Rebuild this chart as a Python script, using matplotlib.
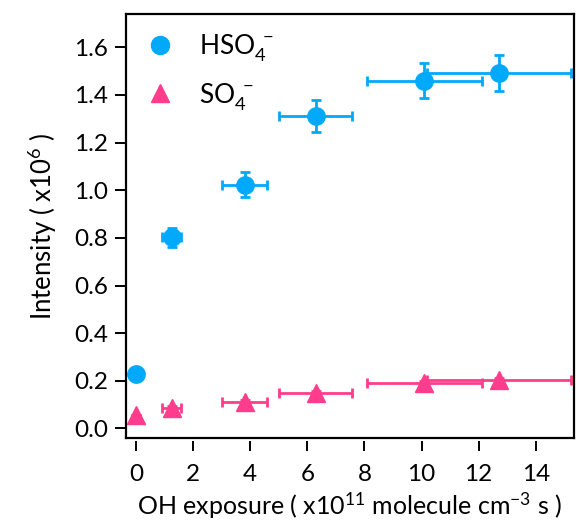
import numpy as np
import matplotlib
matplotlib.use('Agg')
from matplotlib import pyplot as plt
from matplotlib.lines import Line2D

plt.rcParams['font.family'] = ['Lato', 'DejaVu Sans']
plt.rcParams['mathtext.fontset'] = 'custom'
plt.rcParams['mathtext.rm'] = 'Lato'
plt.rcParams['mathtext.it'] = 'Lato'

# OH exposure (x1e11 molecule cm-3 s) and its spread
oh_exp = [0.0, 1.25, 3.8, 6.3, 10.1, 12.7]
oh_err = [0.0, 0.33, 0.8, 1.28, 2.02, 2.52]

# intensities (x1e6)
hso4 = [0.227, 0.802, 1.023, 1.313, 1.46, 1.493]
hso4_err = [0.0, 0.041, 0.052, 0.067, 0.074, 0.075]
so4 = [0.056, 0.086, 0.112, 0.150, 0.192, 0.203]
so4_err = [0.0, 0.008, 0.008, 0.008, 0.008, 0.008]

xticks = [0, 2, 4, 6, 8, 10, 12, 14]
yticks = [0.0, 0.2, 0.4, 0.6, 0.8, 1.0, 1.2, 1.4, 1.6]

blue = '#00A9FA'
pink = '#FF3D8C'

fig = plt.figure(figsize=(5.77, 5.24), dpi=100)
ax = fig.add_axes([0.2184, 0.1641, 0.7764, 0.8092])

ax.errorbar(oh_exp, hso4, xerr=oh_err, yerr=hso4_err, fmt='o', color=blue,
            ms=12.5, elinewidth=2, capsize=3.8, capthick=2)
ax.errorbar(oh_exp, so4, xerr=oh_err, yerr=so4_err, fmt='^', color=pink,
            ms=13, elinewidth=2, capsize=3.8, capthick=2)

ax.set_xlim(-0.35, 15.34)
ax.set_ylim(-0.04, 1.74)
ax.set_xticks(xticks)
ax.set_xticklabels([str(t) for t in xticks])
ax.set_yticks(yticks)
ax.set_yticklabels(['%.1f' % t for t in yticks])

# Igor-style: bottom axis offset slightly below the frame
ax.spines['bottom'].set_position(('outward', 2))
ax.spines['bottom'].set_visible(False)
ax.plot([0, 1], [0, 0], transform=ax.transAxes, color='black', lw=1.6, clip_on=False)
for s in ['left', 'right', 'top']:
    ax.spines[s].set_linewidth(1.6)

ax.tick_params(axis='y', direction='out', length=8, width=1.4, pad=5, labelsize=17.5)
ax.tick_params(axis='x', direction='out', length=7, width=1.4, pad=10, labelsize=17.5)

ax.set_xlabel(r'OH exposure ( x10$^{11}$ molecule cm$^{-3}$ s )', fontsize=18, labelpad=4)
ax.set_ylabel(r'Intensity ( x10$^{6}$ )', fontsize=18.5, labelpad=11)

handles = [Line2D([], [], ls='none', marker='o', color=blue, ms=13),
           Line2D([], [], ls='none', marker='^', color=pink, ms=13.5)]
ax.legend(handles, [r'HSO$_4^{\ -}$', r'SO$_4^{\ -}$'], loc='upper left', frameon=False,
          fontsize=19, handletextpad=0.85, borderaxespad=0.3, labelspacing=0.65,
          handlelength=1.2, borderpad=0.4)

plt.savefig('out.png', dpi=100)
